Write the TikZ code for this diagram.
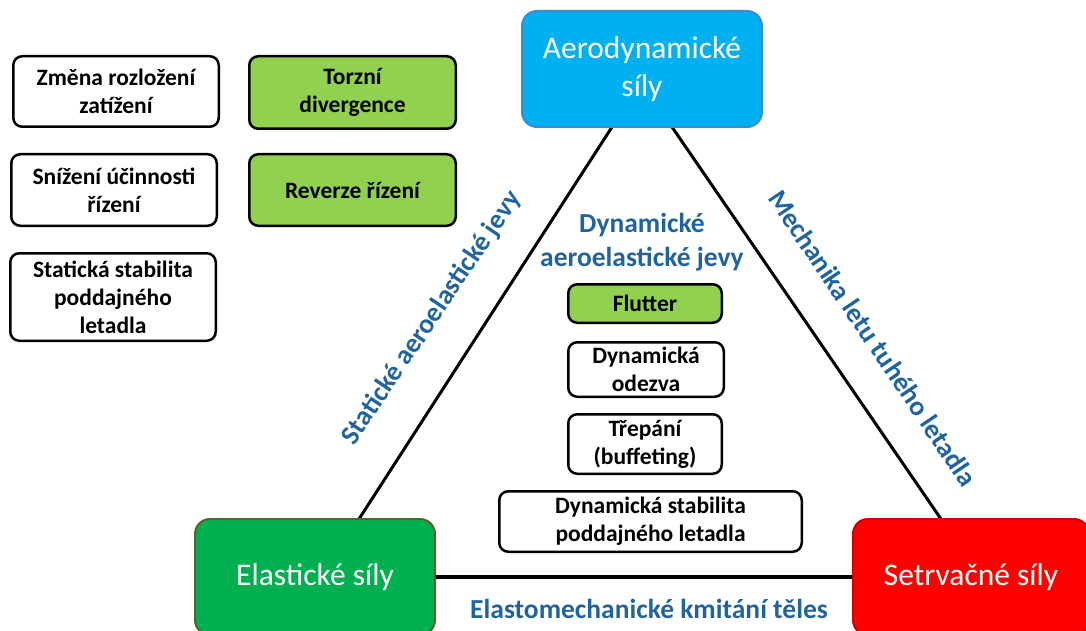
\documentclass[tikz,border=0pt]{standalone}
\usepackage{fontspec}
\setmainfont{Carlito}
\definecolor{lgreen}{RGB}{146,208,80}
\definecolor{labblue}{RGB}{31,100,160}
\definecolor{aerofill}{RGB}{0,176,240}
\definecolor{aerodraw}{RGB}{60,140,210}
\definecolor{elfill}{RGB}{0,176,80}
\definecolor{eldraw}{RGB}{95,95,45}
\definecolor{sefill}{RGB}{255,0,0}
\definecolor{sedraw}{RGB}{205,0,0}
\pgfdeclarelayer{bg}
\pgfsetlayers{bg,main}
\begin{document}
\begin{tikzpicture}[x=1pt,y=-1pt,
  box/.style={draw=black, line width=2.5pt, rounded corners=9pt, fill=white, align=center,
    font=\fontsize{23.5}{28}\selectfont\bfseries, inner sep=0pt},
  gbox/.style={box, fill=lgreen},
  lab/.style={text=labblue, font=\fontsize{27.5}{34}\selectfont\bfseries, align=center, inner sep=0pt},
  big/.style={rounded corners=15pt, line width=2pt, text=white,
    font=\fontsize{31.5}{38}\selectfont, align=center, inner sep=0pt},
  edge/.style={line width=3pt}]
\useasboundingbox (0,0) rectangle (1086,631);

% corner nodes
\node[big, draw=aerodraw, fill=aerofill, minimum width=240pt, minimum height=116pt] (aero) at (642,69) {Aerodynamické\\síly};
\node[big, draw=eldraw, fill=elfill, minimum width=240pt, minimum height=116pt] (elast) at (315,577) {Elastické síly};
\node[big, draw=sedraw, fill=sefill, minimum width=236pt, minimum height=116pt] (setrv) at (971,577) {Setrvačné síly};

% connectors (behind boxes)
\coordinate (lt) at (612,127);
\coordinate (lb) at (359,519);
\coordinate (rt) at (672,127);
\coordinate (rb) at (941,519);
\begin{pgfonlayer}{bg}
\draw[edge] (lt) -- (lb);
\draw[edge] (rt) -- (rb);
\draw[line width=4pt] (elast) -- (setrv);
\end{pgfonlayer}

% left boxes
\node[box, minimum width=205.5pt, minimum height=70.5pt] (zmena) at (116,91.5) {Změna rozložení\\zatížení};
\node[gbox, minimum width=206.5pt, minimum height=72.5pt] (torzni) at (352.5,92.5) {Torzní\\divergence};
\node[box, minimum width=205.5pt, minimum height=71.5pt] (snizeni) at (114,190) {Snížení účinnosti\\řízení};
\node[gbox, minimum width=206.5pt, minimum height=71.5pt] (reverze) at (352.5,190) {Reverze řízení};
\node[box, minimum width=205.5pt, minimum height=87.5pt] (statstab) at (113,297) {Statická stabilita\\poddajného\\letadla};

% inner boxes
\node[gbox, minimum width=153.5pt, minimum height=38.5pt] (flutter) at (645,303.5) {Flutter};
\node[box, minimum width=155.5pt, minimum height=54.5pt] (odezva) at (646,369.5) {Dynamická\\odezva};
\node[box, minimum width=153.5pt, minimum height=59.5pt] (trepani) at (645,444) {Třepání\\(buffeting)};
\node[box, minimum width=302.5pt, minimum height=60.5pt] (dynstab) at (650.5,521.5) {Dynamická stabilita\\poddajného letadla};

% labels
\node[lab] (dynlab) at (642,242) {Dynamické\\aeroelastické jevy};
\node[lab] (botlab) at (649,609) {Elastomechanické kmitání těles};
\node[lab, rotate=56] (leftlab) at (432,318) {Statické aeroelastické jevy};
\node[lab, rotate=-56] (rightlab) at (873,338) {Mechanika letu tuhého letadla};
\end{tikzpicture}
\end{document}
